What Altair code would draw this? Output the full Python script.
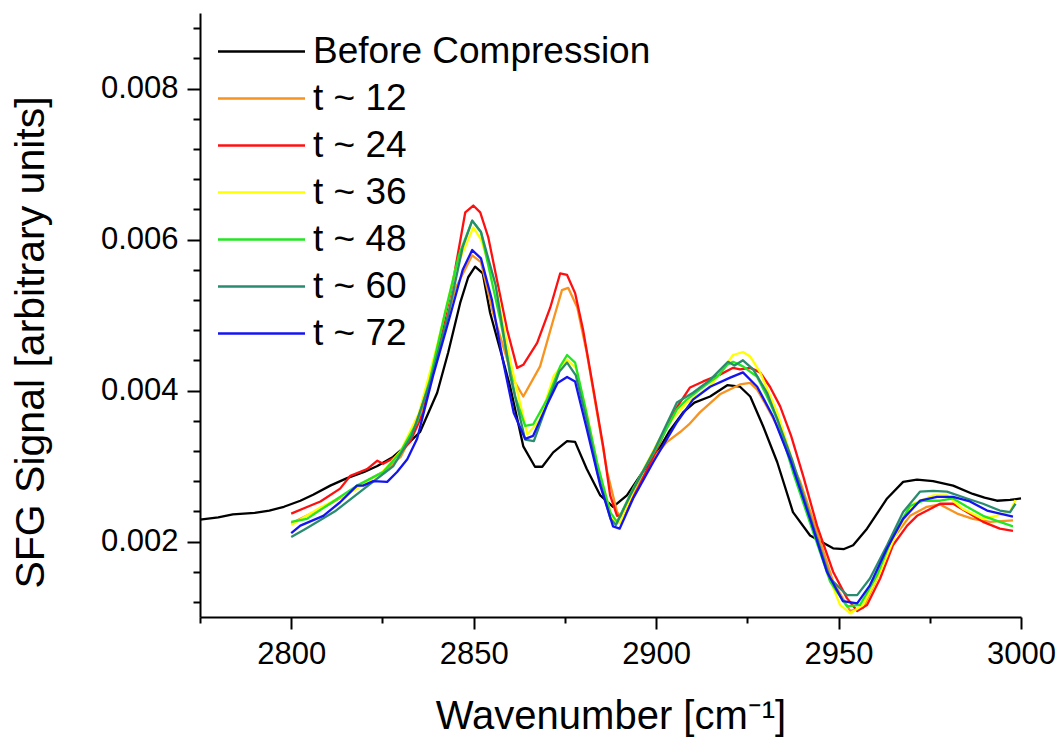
import altair as alt
import pandas as pd

SERIES = ["Before Compression", "t ~ 12", "t ~ 24", "t ~ 36", "t ~ 48", "t ~ 60", "t ~ 72"]
COLORS = ["#000000", "#F7931E", "#FF1010", "#FFFF00", "#22E622", "#2A8C6E", "#1414F0"]

bc_wn = [2775, 2780, 2784, 2790, 2794, 2798, 2802.5, 2806, 2810.7, 2815.3, 2820, 2823.6, 2827.9, 2831,
         2835.3, 2840, 2843, 2846.3, 2848.5, 2850.4, 2852.5, 2854.5, 2857.5, 2860, 2863.6, 2866.8, 2868.8,
         2871.8, 2875.6, 2877.8, 2881, 2884.7, 2888.2, 2892, 2896, 2900.3, 2903.5, 2907.4, 2910.5, 2914.8,
         2919.5, 2923, 2925.8, 2929.3, 2933.2, 2937.5, 2942.2, 2948.5, 2951.5, 2954, 2957.8, 2963.3, 2967.7,
         2971.5, 2975.9, 2981.4, 2986.8, 2990, 2993.4, 2997, 3000]
bc_val = [0.00229, 0.00232, 0.00236, 0.00238, 0.00241, 0.00246, 0.00254, 0.00262, 0.00274, 0.00284, 0.00292,
          0.00300, 0.00312, 0.00325, 0.00345, 0.00397, 0.00450, 0.00516, 0.00550, 0.00564, 0.00555, 0.00503,
          0.00450, 0.00405, 0.00326, 0.00299, 0.00299, 0.00318, 0.00333, 0.00332, 0.00296, 0.00261, 0.00246,
          0.00261, 0.00290, 0.00318, 0.00345, 0.00371, 0.00384, 0.00392, 0.00407, 0.00405, 0.00392, 0.00353,
          0.00305, 0.00239, 0.00208, 0.00191, 0.00190, 0.00195, 0.00217, 0.00257, 0.00279, 0.00282, 0.00280,
          0.00274, 0.00263, 0.00258, 0.00254, 0.00255, 0.00257]

t12_wn = [2800, 2805, 2810, 2815, 2820, 2825, 2830, 2835, 2840, 2845, 2849.6, 2852, 2855.3, 2858, 2860.8,
          2863.6, 2868.2, 2871.8, 2874.2, 2875.9, 2878.4, 2881, 2883.8, 2886.6, 2889.3, 2890.5, 2895.6, 2900,
          2903, 2906.6, 2909, 2912, 2917.5, 2923, 2925.8, 2927.7, 2930, 2933.2, 2936, 2939.5, 2944.1, 2948.5,
          2953.2, 2956.7, 2960.5, 2964.9, 2969.6, 2974.2, 2977.8, 2982.5, 2986.8, 2991.5, 2997.8]
t12_val = [0.00224, 0.00236, 0.00248, 0.00262, 0.00278, 0.00292, 0.00312, 0.00360, 0.00450, 0.00535, 0.00579,
           0.00570, 0.00503, 0.00460, 0.00415, 0.00392, 0.00432, 0.00493, 0.00533, 0.00536, 0.00510, 0.00450,
           0.00371, 0.00292, 0.00239, 0.00232, 0.00279, 0.00315, 0.00332, 0.00345, 0.00355, 0.00371, 0.00395,
           0.00408, 0.00410, 0.00401, 0.00382, 0.00353, 0.00318, 0.00279, 0.00213, 0.00147, 0.00108, 0.00112,
           0.00151, 0.00204, 0.00234, 0.00246, 0.00249, 0.00237, 0.00230, 0.00226, 0.00228]

t24_wn = [2800, 2804, 2808, 2813.4, 2816.2, 2820.8, 2823.6, 2825.2, 2829, 2832.6, 2836.2, 2838, 2840.8, 2844.4,
          2847.7, 2849.9, 2851.8, 2854, 2856.4, 2859.2, 2861.9, 2863.6, 2867.4, 2871, 2873.7, 2875.6, 2877.8,
          2880, 2882.7, 2885.5, 2887.4, 2889.3, 2891, 2895, 2900, 2903, 2906, 2909.3, 2912.9, 2917.5, 2921.1,
          2923, 2925.8, 2928.5, 2931.2, 2934, 2937, 2940.3, 2944.1, 2948.5, 2952.3, 2955.1, 2957.8, 2961.4,
          2964.9, 2968.8, 2971.5, 2975.1, 2977.8, 2981.4, 2985.2, 2989.6, 2994.2, 2997.8]
t24_val = [0.00237, 0.00245, 0.00253, 0.00270, 0.00287, 0.00296, 0.00307, 0.00303, 0.00313, 0.00332, 0.00371,
           0.00414, 0.00467, 0.00546, 0.00636, 0.00645, 0.00636, 0.00603, 0.00546, 0.00480, 0.00430, 0.00434,
           0.00463, 0.00510, 0.00555, 0.00553, 0.00529, 0.00480, 0.00405, 0.00326, 0.00261, 0.00234, 0.00235,
           0.00270, 0.00320, 0.00352, 0.00380, 0.00404, 0.00412, 0.00421, 0.00430, 0.00428, 0.00430, 0.00424,
           0.00405, 0.00379, 0.00340, 0.00287, 0.00221, 0.00160, 0.00125, 0.00108, 0.00116, 0.00151, 0.00195,
           0.00221, 0.00234, 0.00243, 0.00250, 0.00250, 0.00239, 0.00226, 0.00217, 0.00214]

t36_wn = [2800, 2808, 2818, 2825, 2830, 2835, 2840, 2845, 2849.9, 2852, 2856, 2860, 2864.7, 2868, 2872, 2875.6,
          2878, 2881, 2884, 2888, 2890, 2893.7, 2897, 2901, 2904.5, 2908.4, 2914.8, 2921.1, 2923.8, 2925.8,
          2928.5, 2933.2, 2937.5, 2942.2, 2946.8, 2950.4, 2953.2, 2956.7, 2961.4, 2966, 2970.4, 2975.9, 2979.7,
          2984.1, 2989.6, 2994, 2997, 2998.5]
t36_val = [0.00222, 0.00245, 0.00270, 0.00292, 0.00320, 0.00370, 0.00460, 0.00560, 0.00616, 0.00600, 0.00540,
           0.00440, 0.00342, 0.00360, 0.00420, 0.00441, 0.00430, 0.00370, 0.00300, 0.00230, 0.00224, 0.00266,
           0.00300, 0.00336, 0.00362, 0.00384, 0.00405, 0.00447, 0.00451, 0.00445, 0.00424, 0.00371, 0.00305,
           0.00230, 0.00160, 0.00116, 0.00105, 0.00116, 0.00160, 0.00213, 0.00250, 0.00261, 0.00261, 0.00243,
           0.00230, 0.00235, 0.00239, 0.00255]

t48_wn = [2800, 2804.3, 2811.5, 2818, 2825.2, 2829.9, 2834.5, 2838, 2842, 2846, 2849.6, 2852, 2857.3, 2861.4,
          2864.1, 2866.3, 2870.1, 2873.7, 2875.6, 2877.8, 2880.5, 2883.8, 2887.4, 2889.3, 2893.7, 2900.3, 2905.7,
          2908.4, 2912.9, 2916.7, 2919.5, 2921.1, 2923.8, 2927.7, 2930.4, 2933.2, 2937.5, 2943, 2947.7, 2952.3,
          2955.9, 2960.5, 2964.9, 2969.6, 2973.2, 2977.8, 2981.4, 2985.2, 2989.6, 2994.2, 2997.8]
t48_val = [0.00226, 0.00230, 0.00253, 0.00274, 0.00292, 0.00318, 0.00358, 0.00414, 0.00500, 0.00580, 0.00625,
           0.00610, 0.00493, 0.00392, 0.00353, 0.00355, 0.00388, 0.00432, 0.00447, 0.00437, 0.00379, 0.00305,
           0.00239, 0.00226, 0.00270, 0.00326, 0.00375, 0.00388, 0.00405, 0.00418, 0.00434, 0.00438, 0.00432,
           0.00418, 0.00392, 0.00362, 0.00292, 0.00213, 0.00147, 0.00114, 0.00116, 0.00155, 0.00208, 0.00247,
           0.00254, 0.00254, 0.00257, 0.00246, 0.00234, 0.00226, 0.00220]

t60_wn = [2800, 2804, 2812, 2820, 2828, 2833, 2838, 2843, 2847, 2849.6, 2852, 2856, 2860, 2864.1, 2866.5, 2870,
          2873.5, 2875.6, 2878, 2881, 2884, 2887.5, 2889, 2893, 2899.2, 2905.7, 2910.1, 2914.8, 2919.7, 2921.5,
          2923.8, 2926.6, 2930.4, 2933.2, 2937.5, 2943, 2947.7, 2952.3, 2955.1, 2958.6, 2963.3, 2967.7, 2972.3,
          2975.9, 2979.7, 2985.2, 2989.6, 2994.2, 2997, 2998.5]
t60_val = [0.00206, 0.00217, 0.00240, 0.00270, 0.00300, 0.00340, 0.00410, 0.00500, 0.00590, 0.00625, 0.00610,
           0.00540, 0.00420, 0.00335, 0.00333, 0.00380, 0.00425, 0.00437, 0.00420, 0.00360, 0.00290, 0.00230,
           0.00222, 0.00262, 0.00318, 0.00384, 0.00397, 0.00414, 0.00438, 0.00433, 0.00440, 0.00428, 0.00397,
           0.00362, 0.00305, 0.00221, 0.00151, 0.00129, 0.00129, 0.00151, 0.00195, 0.00239, 0.00266, 0.00267,
           0.00266, 0.00257, 0.00250, 0.00241, 0.00239, 0.00250]

t72_wn = [2800, 2802.5, 2808.8, 2813.4, 2818, 2819.7, 2822.5, 2826.3, 2829, 2831.8, 2834.5, 2838.9, 2843.6,
          2847, 2849.6, 2852, 2855, 2858, 2861, 2864.1, 2866.3, 2870, 2873, 2875.6, 2877.8, 2881, 2884.7,
          2888.2, 2890, 2893.7, 2899.2, 2905.7, 2910.1, 2914.8, 2920.3, 2923.8, 2927.7, 2932, 2936.7, 2942.2,
          2946.8, 2951.2, 2955.1, 2958.6, 2963.3, 2967.7, 2972.3, 2977, 2981.4, 2986, 2990.7, 2997.8]
t72_val = [0.00211, 0.00221, 0.00234, 0.00252, 0.00274, 0.00274, 0.00280, 0.00279, 0.00292, 0.00309, 0.00336,
           0.00420, 0.00500, 0.00560, 0.00586, 0.00575, 0.00520, 0.00440, 0.00370, 0.00336, 0.00340, 0.00380,
           0.00410, 0.00418, 0.00412, 0.00349, 0.00274, 0.00220, 0.00217, 0.00257, 0.00305, 0.00358, 0.00388,
           0.00405, 0.00417, 0.00424, 0.00405, 0.00366, 0.00309, 0.00230, 0.00160, 0.00121, 0.00118, 0.00142,
           0.00191, 0.00230, 0.00254, 0.00259, 0.00259, 0.00253, 0.00241, 0.00233]

X_MAJOR = [2800, 2850, 2900, 2950, 3000]
X_MINOR = [2775, 2825, 2875, 2925, 2975]
Y_MAJOR = [0.002, 0.004, 0.006, 0.008]
Y_MINOR = [0.0012, 0.0016, 0.0024, 0.0028, 0.0032, 0.0036, 0.0044, 0.0048, 0.0052, 0.0056,
           0.0064, 0.0068, 0.0072, 0.0076, 0.0084, 0.0088]

rows = []
for name, wn, val in zip(SERIES, [bc_wn, t12_wn, t24_wn, t36_wn, t48_wn, t60_wn, t72_wn],
                         [bc_val, t12_val, t24_val, t36_val, t48_val, t60_val, t72_val]):
    for w, v in zip(wn, val):
        rows.append({"series": name, "wn": w, "val": v})
df = pd.DataFrame(rows)

FONT = "Liberation Sans"
xscale = alt.Scale(domain=[2775, 3000], nice=False, zero=False)
yscale = alt.Scale(domain=[0.001, 0.009], nice=False, zero=False)

lines = alt.Chart(df).mark_line(strokeWidth=2.3, strokeJoin="round").encode(
    x=alt.X("wn:Q", scale=xscale, axis=alt.Axis(
        orient="bottom", values=X_MAJOR, format="d", grid=False, tickSize=12, tickWidth=2,
        domainWidth=2, domainColor="black", tickColor="black", labelColor="black",
        labelFont=FONT, labelFontSize=31, labelPadding=10, labelFlush=False,
        title="Wavenumber [cm\u207b\u00b9]", titleFont=FONT, titleFontSize=40, titleFontWeight="normal",
        titleColor="black", titleY=111, titleBaseline="alphabetic")),
    y=alt.Y("val:Q", scale=yscale, axis=alt.Axis(
        orient="left", values=Y_MAJOR, format=".3f", grid=False, tickSize=13, tickWidth=2,
        domainWidth=2, domainColor="black", tickColor="black", labelColor="black",
        labelFont=FONT, labelFontSize=31, labelPadding=9, labelFlush=False,
        title="SFG Signal [arbitrary units]", titleFont=FONT, titleFontSize=41, titleFontWeight="normal",
        titleColor="black", titleX=-169, titleY=329, titleAngle=270, titleAlign="center",
        titleBaseline="middle")),
    color=alt.Color("series:N", sort=SERIES, scale=alt.Scale(domain=SERIES, range=COLORS),
                    legend=alt.Legend(title=None, orient="none", legendX=43, legendY=20,
                                      symbolType="M-4,0H4", symbolSize=473, symbolStrokeWidth=2.3,
                                      labelFont=FONT, labelFontSize=37, labelColor="black", labelLimit=0,
                                      labelOffset=33, rowPadding=9, padding=0, symbolOpacity=1)),
)

minor = alt.Chart(df).mark_line(opacity=0).encode(
    x=alt.X("wn:Q", scale=xscale, axis=alt.Axis(
        orient="bottom", values=X_MINOR, labels=False, domain=False, grid=False, tickSize=6,
        tickWidth=2, tickColor="black", title=None)),
    y=alt.Y("val:Q", scale=yscale, axis=alt.Axis(
        orient="left", values=Y_MINOR, labels=False, domain=False, grid=False, tickSize=7,
        tickWidth=2, tickColor="black", title=None)),
    detail="series:N",
)

chart = alt.layer(minor, lines).resolve_axis(x="independent", y="independent").resolve_scale(
    x="shared", y="shared").properties(
    width=821, height=604,
    autosize=alt.AutoSizeParams(type="none"),
    padding={"left": 200, "top": 13, "right": 40, "bottom": 125},
    background="white",
).configure_view(stroke=None)

chart.save("out.html", embed_options={"renderer": "svg", "actions": False})
